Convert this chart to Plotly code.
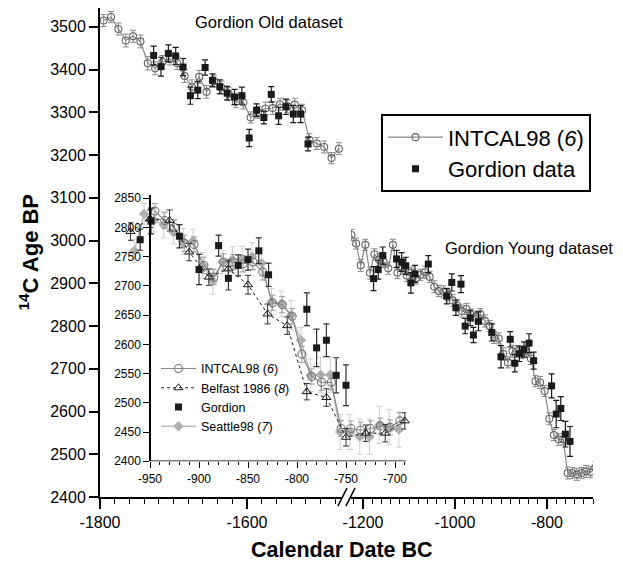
import plotly.graph_objects as go

# ---------------- data ----------------
intcal_old_year = [-1795, -1785, -1775, -1765, -1755, -1745, -1735, -1725, -1715, -1705, -1695,
                   -1685, -1675, -1665, -1655, -1645, -1635, -1625, -1615, -1605, -1595, -1585,
                   -1575, -1565, -1555, -1545, -1535, -1525, -1515, -1505, -1495, -1485, -1475]
intcal_old_bp = [3515, 3523, 3495, 3468, 3478, 3466, 3415, 3403, 3418, 3425, 3415,
                 3385, 3360, 3383, 3348, 3373, 3358, 3343, 3325, 3323, 3288, 3300,
                 3309, 3310, 3319, 3314, 3318, 3305, 3235, 3227, 3219, 3193, 3215]
intcal_old_err = [14, 13, 14, 15, 14, 15, 16, 15, 15, 14, 15,
                  15, 16, 15, 15, 14, 15, 15, 14, 15, 13, 14,
                  15, 15, 14, 15, 15, 14, 15, 14, 14, 13, 14]

gordion_old_year = [-1727, -1717, -1707, -1697, -1687, -1677, -1667, -1657, -1647, -1637, -1627,
                    -1617, -1607, -1597, -1587, -1577, -1567, -1557, -1547, -1537, -1527, -1517]
gordion_old_bp = [3433, 3407, 3438, 3432, 3406, 3339, 3352, 3405, 3375, 3360, 3345,
                  3336, 3339, 3240, 3305, 3288, 3342, 3292, 3313, 3296, 3296, 3226]
gordion_old_err = [22, 22, 20, 20, 20, 20, 20, 18, 15, 16, 16,
                   18, 20, 20, 15, 15, 18, 20, 18, 20, 20, 16]

intcal_young_year = [-1225, -1215, -1205, -1195, -1185, -1175, -1165, -1155, -1145, -1135, -1125,
                     -1115, -1105, -1095, -1085, -1075, -1065, -1055, -1045, -1035, -1025, -1015,
                     -1005, -995, -985, -975, -965, -955, -945, -935, -925, -915, -905,
                     -895, -885, -875, -865, -855, -845, -835, -825, -815, -805, -795,
                     -785, -775, -765, -755, -745, -735, -725, -715, -705, -695, -685]
intcal_young_bp = [3013, 2993, 2942, 2990, 2924, 2968, 2955, 2950, 2935, 2990, 2925,
                   2935, 2918, 2925, 2912, 2920, 2926, 2915, 2892, 2882, 2880, 2873,
                   2860, 2848, 2835, 2840, 2826, 2822, 2828, 2812, 2800, 2773, 2771,
                   2735, 2715, 2741, 2741, 2738, 2741, 2724, 2671, 2668, 2648, 2583,
                   2545, 2535, 2535, 2456, 2456, 2453, 2456, 2460, 2458, 2469, 2474]
intcal_young_err = [13, 13, 14, 13, 14, 13, 14, 13, 14, 13, 14,
                    13, 14, 13, 14, 13, 14, 13, 14, 13, 14, 13,
                    14, 13, 14, 13, 14, 13, 13, 14, 13, 14, 13,
                    14, 13, 14, 13, 14, 13, 14, 13, 14, 13, 14,
                    13, 14, 13, 14, 13, 14, 13, 14, 13, 14, 13]

gordion_young_year = [-1177, -1167, -1157, -1127, -1116, -1107, -1096, -1087, -1058, -1018,
                      -1007, -998, -987, -978, -967, -960, -949, -920, -900, -880,
                      -870, -860, -850, -839, -829, -790, -780, -770, -760, -750]
gordion_young_bp = [2911, 2932, 2965, 2957, 2950, 2941, 2901, 2922, 2945, 2870,
                    2902, 2843, 2898, 2800, 2819, 2779, 2811, 2785, 2728, 2769,
                    2713, 2735, 2745, 2760, 2719, 2660, 2594, 2607, 2547, 2530]
gordion_young_err = [28, 22, 20, 20, 22, 20, 24, 20, 20, 18,
                     20, 18, 20, 18, 18, 18, 22, 20, 26, 18,
                     20, 18, 18, 22, 20, 28, 32, 28, 30, 35]

belfast_year = [-970, -950, -930, -910, -890, -870, -850, -830, -810, -790, -770, -750, -730, -710, -690]
belfast_bp = [2793, 2815, 2812, 2758, 2715, 2729, 2702, 2652, 2632, 2519, 2509, 2441, 2448, 2448, 2469]
belfast_err = [15, 15, 18, 15, 14, 15, 16, 17, 15, 14, 15, 15, 14, 15, 14]

seattle_year = [-966, -956, -946, -936, -926, -916, -906, -896, -886, -876, -866, -856, -846, -836,
                -826, -816, -806, -796, -786, -776, -766, -756, -746, -736, -726, -716, -706, -696]
seattle_bp = [2760, 2823, 2812, 2804, 2792, 2776, 2777, 2735, 2708, 2741, 2745, 2746, 2750, 2739,
              2673, 2669, 2650, 2607, 2547, 2548, 2548, 2450, 2450, 2442, 2442, 2462, 2458, 2454]
seattle_err = [20, 18, 20, 22, 20, 22, 20, 22, 22, 20, 22, 22, 24, 22,
               22, 22, 25, 22, 28, 30, 30, 30, 30, 30, 30, 32, 30, 30]

main_y_ticks = [2400, 2500, 2600, 2700, 2800, 2900, 3000, 3100, 3200, 3300, 3400, 3500]
left_x_ticks = [-1800, -1600]
left_x_labels = ["-1800", "-1600"]
right_x_ticks = [-1200, -1000, -800]
right_x_labels = ["-1200", "-1000", "-800"]
inset_x_ticks = [-950, -900, -850, -800, -750, -700]
inset_x_labels = ["-950", "-900", "-850", "-800", "-750", "-700"]
inset_y_ticks = [2400, 2450, 2500, 2550, 2600, 2650, 2700, 2750, 2800, 2850]
INSET_START = -950

# ---------------- layout geometry (pixels) ----------------
W, H = 623, 562
L, R, T, B = 100, 593, 5, 497
PW, PH = R - L, B - T


def px(x):
    return (x - L) / PW


def py(y):
    return (B - y) / PH


FONT = "Liberation Sans, Arial, Helvetica, sans-serif"
GRAY = "#8a8a8a"
LGRAY = "#bdbdbd"
BLACK = "#1a1a1a"

fig = go.Figure()


def sub(xs, ys, es, lo, hi):
    out = [(x, y, e) for x, y, e in zip(xs, ys, es) if lo <= x <= hi]
    return [o[0] for o in out], [o[1] for o in out], [o[2] for o in out]


# ---------- main: old dataset (left segment) ----------
fig.add_trace(go.Scatter(
    x=intcal_old_year, y=intcal_old_bp, mode="lines+markers", xaxis="x", yaxis="y",
    name="INTCAL98 (<i>6</i>)", legend="legend", legendrank=1,
    line=dict(color=GRAY, width=1.2),
    marker=dict(symbol="circle-open", size=7, color="#666666", line=dict(width=1.1)),
    error_y=dict(type="data", array=intcal_old_err, color=GRAY, thickness=1, width=3),
    cliponaxis=False))
fig.add_trace(go.Scatter(
    x=gordion_old_year, y=gordion_old_bp, mode="markers", xaxis="x", yaxis="y",
    name="Gordion data", legend="legend", legendrank=2,
    marker=dict(symbol="square", size=7, color=BLACK),
    error_y=dict(type="data", array=gordion_old_err, color=BLACK, thickness=1.2, width=3),
    cliponaxis=False))

# ---------- main: young dataset (right segment) ----------
fig.add_trace(go.Scatter(
    x=intcal_young_year, y=intcal_young_bp, mode="lines+markers", xaxis="x2", yaxis="y",
    name="INTCAL98 (<i>6</i>)", showlegend=False,
    line=dict(color=GRAY, width=1.2),
    marker=dict(symbol="circle-open", size=7, color="#666666", line=dict(width=1.1)),
    error_y=dict(type="data", array=intcal_young_err, color=GRAY, thickness=1, width=3)))
fig.add_trace(go.Scatter(
    x=gordion_young_year, y=gordion_young_bp, mode="markers", xaxis="x2", yaxis="y",
    name="Gordion data", showlegend=False,
    marker=dict(symbol="square", size=7, color=BLACK),
    error_y=dict(type="data", array=gordion_young_err, color=BLACK, thickness=1.2, width=3)))

# ---------- inset ----------
fig.add_trace(go.Scatter(
    x=seattle_year, y=seattle_bp, mode="lines+markers", xaxis="x3", yaxis="y3",
    name="Seattle98 (<i>7</i>)", legend="legend2", legendrank=4,
    line=dict(color=LGRAY, width=1.5),
    marker=dict(symbol="diamond", size=8, color="#b0b0b0"),
    error_y=dict(type="data", array=seattle_err, color="#cfcfcf", thickness=1, width=3)))
ix, iy, ie = sub(intcal_young_year, intcal_young_bp, intcal_young_err, INSET_START, -680)
fig.add_trace(go.Scatter(
    x=ix, y=iy, mode="lines+markers", xaxis="x3", yaxis="y3",
    name="INTCAL98 (<i>6</i>)", legend="legend2", legendrank=1,
    line=dict(color=GRAY, width=1.2),
    marker=dict(symbol="circle-open", size=8, color="#777777", line=dict(width=1.1)),
    error_y=dict(type="data", array=ie, color="#a0a0a0", thickness=1, width=3)))
fig.add_trace(go.Scatter(
    x=belfast_year, y=belfast_bp, mode="lines+markers", xaxis="x3", yaxis="y3",
    name="Belfast 1986 (<i>8</i>)", legend="legend2", legendrank=2,
    line=dict(color=BLACK, width=1, dash="dot"),
    marker=dict(symbol="triangle-up-open", size=8, color=BLACK, line=dict(width=1)),
    error_y=dict(type="data", array=belfast_err, color="#333333", thickness=1, width=3),
    cliponaxis=False))
gx, gy, ge = sub(gordion_young_year, gordion_young_bp, gordion_young_err, -965, -680)
fig.add_trace(go.Scatter(
    x=gx, y=gy, mode="markers", xaxis="x3", yaxis="y3",
    name="Gordion", legend="legend2", legendrank=3,
    marker=dict(symbol="square", size=7, color=BLACK),
    error_y=dict(type="data", array=ge, color="#333333", thickness=1.2, width=3),
    cliponaxis=False))

# ---------- axes ----------
tickfont_main = dict(family=FONT, size=16, color="black")
tickfont_in = dict(family=FONT, size=12, color="black")

left_end_px, right_start_px = 342, 351
left_scale = 0.735
right_scale = 0.46
left_range = [-1800, -1800 + (left_end_px - L) / left_scale]
right_range = [-700 - (R - right_start_px) / right_scale, -700]

common_x = dict(showgrid=False, zeroline=False, showline=True, linecolor="black", linewidth=2,
                ticks="outside", ticklen=10, tickwidth=1.5, tickcolor="black",
                tickfont=tickfont_main, fixedrange=True)

fig.update_layout(
    xaxis=dict(domain=[0, px(left_end_px)], range=left_range, anchor="y",
               tickmode="array", tickvals=left_x_ticks, ticktext=left_x_labels,
               minor=dict(dtick=20, tick0=-1800, ticklen=5, tickwidth=1.2, tickcolor="black", ticks="outside"),
               **common_x),
    xaxis2=dict(domain=[px(right_start_px), 1], range=right_range, anchor="y",
                tickmode="array", tickvals=right_x_ticks, ticktext=right_x_labels,
                minor=dict(dtick=20, tick0=-1200, ticklen=5, tickwidth=1.2, tickcolor="black", ticks="outside"),
                **common_x),
    yaxis=dict(domain=[0, 1], range=[2400, 2400 + PH / 0.43], anchor="x",
               tickmode="array", tickvals=main_y_ticks,
               showgrid=False, zeroline=False, showline=True, linecolor="black", linewidth=2,
               ticks="outside", ticklen=9, tickwidth=1.5, tickcolor="black",
               tickfont=tickfont_main, fixedrange=True),
)

inset_left_px, inset_axis_px, inset_right_px = 128, 150, 406
inset_bottom_px, inset_top_px = 461, 193
inset_xs = 0.98
inset_ys = 0.588
fig.update_layout(
    xaxis3=dict(domain=[px(inset_left_px), px(inset_right_px)],
                range=[INSET_START - (inset_axis_px - inset_left_px) / inset_xs,
                       INSET_START + (inset_right_px - inset_axis_px) / inset_xs],
                anchor="y3", showgrid=False, zeroline=False, showline=False,
                tickmode="array", tickvals=inset_x_ticks, ticktext=inset_x_labels,
                ticks="outside", ticklen=6, tickwidth=1.2, tickcolor="black",
                minor=dict(tickvals=list(range(-940, -685, 10)), ticklen=3, tickwidth=1,
                           tickcolor="black", ticks="outside"),
                tickfont=tickfont_in, fixedrange=True),
    yaxis3=dict(domain=[py(inset_bottom_px), py(inset_top_px)],
                range=[2400, 2400 + (inset_bottom_px - inset_top_px) / inset_ys],
                anchor="free", position=px(inset_axis_px),
                showgrid=False, zeroline=False, showline=True, linecolor="black", linewidth=1.5,
                tickmode="array", tickvals=inset_y_ticks,
                ticks="outside", ticklen=6, tickwidth=1.2, tickcolor="black",
                tickfont=tickfont_in, fixedrange=True),
)

# inset x-axis line starting at the inset y-axis
fig.add_shape(type="line", xref="x3", yref="y3", x0=INSET_START, x1=inset_x_ticks[-1] + 11,
              y0=2400, y1=2400, line=dict(color="black", width=1.5))

# axis break marks
for dx in (0, 8):
    fig.add_shape(type="line", xref="paper", yref="paper",
                  x0=px(338 + dx), y0=py(506), x1=px(347 + dx), y1=py(488),
                  line=dict(color="black", width=1.5))

# ---------- text ----------
fig.add_annotation(xref="paper", yref="paper", x=px(193), y=py(19), xanchor="left", yanchor="middle",
                   text="Gordion Old dataset", showarrow=False,
                   font=dict(family=FONT, size=16.5, color="black"))
fig.add_annotation(xref="paper", yref="paper", x=px(443), y=py(246), xanchor="left", yanchor="middle",
                   text="Gordion Young dataset", showarrow=False,
                   font=dict(family=FONT, size=16.5, color="black"))
fig.add_annotation(xref="paper", yref="paper", x=px(28), y=py(251), xanchor="center", yanchor="middle",
                   text="<b><sup>14</sup>C Age BP</b>", textangle=-90, showarrow=False,
                   font=dict(family=FONT, size=22, color="black"))
fig.add_annotation(xref="paper", yref="paper", x=px(342), y=py(550), xanchor="center", yanchor="middle",
                   text="<b>Calendar Date BC</b>", showarrow=False,
                   font=dict(family=FONT, size=21.5, color="black"))

fig.update_layout(
    width=W, height=H, autosize=False,
    margin=dict(l=L, r=W - R, t=T, b=H - B, pad=0),
    paper_bgcolor="white", plot_bgcolor="rgba(0,0,0,0)",
    font=dict(family=FONT, color="black"),
    legend=dict(x=px(381), y=py(112), xanchor="left", yanchor="top",
                bgcolor="white", bordercolor="black", borderwidth=2,
                font=dict(family=FONT, size=22, color="black"),
                itemwidth=55, tracegroupgap=0),
    legend2=dict(x=px(156), y=py(353), xanchor="left", yanchor="top",
                 bgcolor="rgba(0,0,0,0)", borderwidth=0,
                 font=dict(family=FONT, size=12.5, color="black"),
                 itemwidth=35, tracegroupgap=0),
)

fig.write_html("out.html", config={"displayModeBar": False},
               post_script="document.body.style.margin='0px';document.body.style.overflow='hidden';")
